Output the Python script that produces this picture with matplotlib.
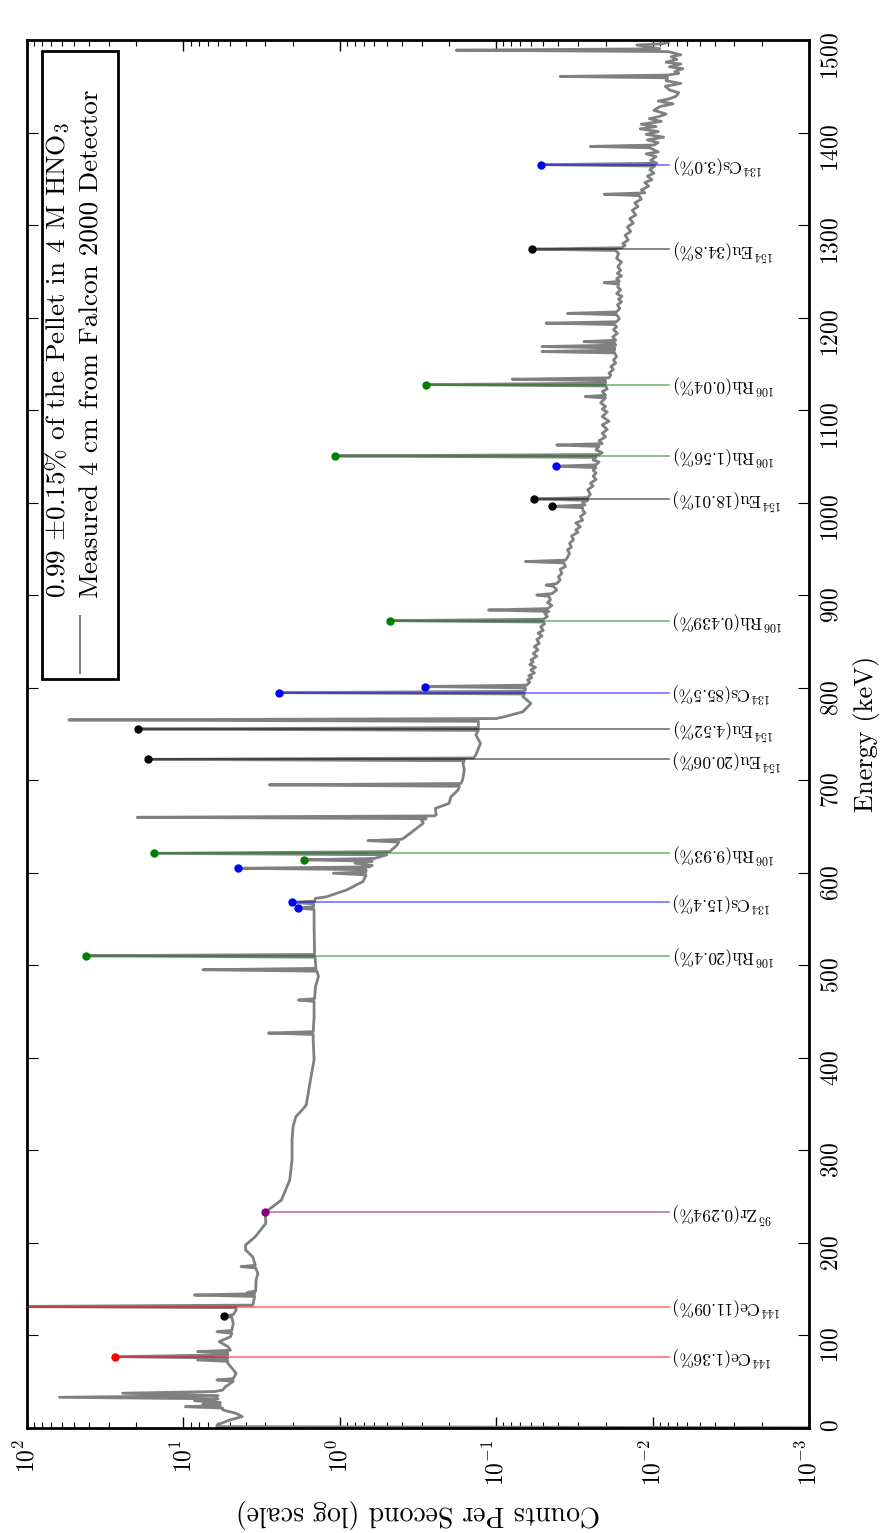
import matplotlib.pyplot as plt
from matplotlib.patches import Rectangle

plt.rcParams['font.family'] = 'cmr10'
plt.rcParams['mathtext.fontset'] = 'cm'
plt.rcParams['axes.unicode_minus'] = False
plt.rcParams['axes.formatter.use_mathtext'] = True

# gamma spectrum, energy (keV) vs counts per second, in three pieces
energy_low = [0.0, 1.5, 3.3, 8.9, 12.3, 15.8, 19.5, 21.5, 23.0, 24.5,
              26.0, 27.5, 29.5, 31.5, 33.2, 35.0, 37.6, 39.4, 41.0, 44.4,
              50.4, 51.9, 53.4, 59.1, 70.0, 72.0, 73.5, 75.5, 77.1, 79.0,
              81.0, 82.5, 84.0, 88.0, 93.3, 98.7, 102.5, 104.0, 105.5, 113.0,
              119.5, 121.0, 122.5, 127.5, 130.0, 131.3, 132.8, 142.2, 143.7, 145.2,
              146.5, 148.0, 160.0, 167.0, 172.9, 174.4, 175.9, 185.0, 192.3, 197.8,
              206.8, 221.2, 233.1]
cps_low = [0.0001, 6.1, 6.1, 5.0, 4.2, 4.6, 5.6, 5.6, 9.7, 5.8,
           7.5, 5.8, 8.5, 6.0, 62.0, 6.0, 24.5, 6.3, 5.6, 5.4,
           4.8, 6.1, 4.8, 4.6, 5.2, 5.2, 8.1, 5.2, 27.2, 5.2,
           5.2, 8.1, 5.0, 5.2, 5.9, 5.0, 4.9, 6.1, 4.9, 4.8,
           4.9, 5.5, 4.8, 4.6, 4.6, 150.0, 3.6, 3.5, 8.5, 3.5,
           3.9, 3.45, 3.43, 3.34, 3.45, 4.28, 3.47, 3.6, 4.0, 4.0,
           3.47, 2.97, 3.0]

energy_mid = [246.4, 268.0, 289.6, 311.0, 325.6, 336.5, 343.7, 349.0, 376.0, 398.0,
              419.6, 425.3, 426.8, 428.3, 444.6, 461.0, 462.5, 464.0, 477.0, 488.0,
              493.7, 495.2, 496.7, 502.4, 508.8, 510.3, 511.8, 542.0, 560.4, 561.9,
              563.4, 566.5, 568.0, 569.5, 572.4, 574.0, 581.6, 590.6, 597.8, 599.5,
              601.0, 603.4, 604.9, 606.4, 608.0, 610.4, 612.5, 614.0, 615.5, 619.5,
              621.0, 622.9, 630.0, 633.2, 634.7, 636.2, 642.7, 653.5, 657.0, 658.5,
              660.0, 661.5, 662.4, 669.6, 675.0, 682.0, 689.6, 693.5, 695.0, 696.5,
              700.3, 711.0, 718.3, 721.1, 722.6, 724.1, 727.3, 740.0, 749.0, 753.9,
              755.4, 756.9, 759.7, 763.7, 765.2, 766.7, 768.7, 774.0, 783.0, 790.5,
              793.2, 794.7, 796.2, 798.4, 799.8, 801.3]
cps_mid = [2.36, 2.09, 2.02, 2.02, 1.99, 1.91, 1.74, 1.64, 1.54, 1.46,
           1.48, 1.48, 2.86, 1.48, 1.46, 1.46, 1.84, 1.45, 1.43, 1.37,
           1.4, 7.5, 1.42, 1.43, 1.44, 42.0, 1.45, 1.46, 1.46, 1.84,
           1.47, 1.47, 2.02, 1.45, 1.43, 1.22, 0.9, 0.71, 0.68, 1.1,
           0.68, 0.68, 4.48, 0.65, 0.62, 0.8, 0.62, 1.69, 0.6, 0.5,
           15.4, 0.48, 0.43, 0.42, 0.66, 0.40, 0.355, 0.293, 0.30, 0.28,
           19.7, 0.25, 0.242, 0.245, 0.20, 0.195, 0.175, 0.172, 2.82, 0.168,
           0.164, 0.16, 0.163, 0.16, 16.9, 0.14, 0.135, 0.126, 0.135, 0.13,
           19.5, 0.13, 0.13, 0.13, 54.0, 0.1, 0.0885, 0.0676, 0.060, 0.0676,
           0.066, 2.45, 0.066, 0.065, 0.065, 0.286]

energy_high = [802.8, 806, 808.5, 811, 813, 816, 819.3, 822, 825, 828,
               830.1, 834, 837, 841, 844.5, 848, 852, 856, 859, 862,
               866, 869, 871, 872.5, 874, 877, 880.4, 882.5, 884, 885.5,
               889, 892, 894.8, 898.7, 900.2, 901.7, 905.6, 909.5, 911, 912.5,
               916.5, 920, 923.6, 928, 931, 934.9, 936.4, 937.9, 941, 945.3,
               949, 952, 956, 960, 964, 968, 970.5, 974, 978, 981,
               985, 989, 992, 994.5, 996, 997.5, 1000, 1002.5, 1004, 1005.5,
               1009, 1014, 1018, 1021, 1025, 1028.6, 1032, 1035, 1037.9, 1039.4,
               1040.9, 1044, 1046, 1049, 1050.5, 1052, 1054, 1057, 1060.8, 1062.3,
               1063.8, 1067, 1071, 1075, 1079, 1084, 1088, 1093, 1098, 1101,
               1104, 1108, 1113.1, 1114.6, 1116.1, 1120, 1123, 1126.1, 1127.6, 1129.1,
               1131.9, 1133.4, 1134.9, 1138, 1140, 1144, 1147, 1151, 1154, 1158,
               1161.8, 1163.3, 1164.8, 1167.2, 1168.7, 1170.2, 1172.5, 1174, 1175.5, 1179,
               1183, 1187, 1190, 1192.5, 1194, 1195.5, 1199, 1203.1, 1204.6, 1206.1,
               1210, 1213.7, 1217, 1220, 1223, 1226, 1230, 1233, 1236.2, 1237.7,
               1239.2, 1242, 1245, 1248, 1251, 1255, 1260, 1264, 1269, 1272.5,
               1274, 1275.5, 1278, 1280, 1284, 1289, 1293, 1298, 1302, 1307,
               1311, 1316, 1320, 1324, 1328, 1331.8, 1333.3, 1334.8, 1338, 1342,
               1346, 1349, 1353, 1356, 1359.6, 1363.8, 1365.3, 1366.8, 1370, 1374,
               1377, 1379, 1383.5, 1385, 1386.5, 1389, 1392, 1395, 1398, 1401,
               1404, 1406.4, 1409, 1412, 1415, 1417, 1420, 1424, 1428, 1431,
               1434, 1436, 1439, 1443, 1446, 1450, 1453, 1456, 1459.1, 1460.6,
               1462.1, 1464, 1466, 1469, 1471, 1474, 1476, 1479, 1482, 1484,
               1487.5, 1489, 1490.5, 1494.6, 1496, 1498, 1500]
cps_high = [0.064, 0.061, 0.063, 0.059, 0.062, 0.057, 0.060, 0.056, 0.061, 0.058,
            0.060, 0.055, 0.058, 0.054, 0.057, 0.053, 0.055, 0.051, 0.054, 0.050,
            0.052, 0.049, 0.05, 0.478, 0.05, 0.047, 0.049, 0.046, 0.112, 0.047,
            0.044, 0.047, 0.045, 0.046, 0.055, 0.044, 0.041, 0.043, 0.048, 0.041,
            0.039, 0.040, 0.038, 0.039, 0.036, 0.037, 0.065, 0.036, 0.035, 0.034,
            0.035, 0.033, 0.034, 0.032, 0.033, 0.030, 0.031, 0.029, 0.031, 0.028,
            0.029, 0.027, 0.028, 0.028, 0.0442, 0.027, 0.028, 0.026, 0.0575, 0.026,
            0.025, 0.026, 0.024, 0.025, 0.023, 0.024, 0.023, 0.024, 0.023, 0.0417,
            0.023, 0.022, 0.024, 0.023, 1.08, 0.022, 0.021, 0.023, 0.022, 0.041,
            0.021, 0.022, 0.020, 0.021, 0.0195, 0.021, 0.019, 0.021, 0.0195, 0.021,
            0.020, 0.0215, 0.020, 0.027, 0.020, 0.021, 0.0195, 0.02, 0.282, 0.02,
            0.02, 0.079, 0.019, 0.0185, 0.019, 0.0178, 0.0185, 0.0172, 0.0178, 0.0170,
            0.0175, 0.051, 0.0175, 0.0175, 0.051, 0.0172, 0.0175, 0.0275, 0.0172, 0.0180,
            0.0168, 0.0178, 0.0170, 0.0175, 0.048, 0.017, 0.0163, 0.017, 0.035, 0.017,
            0.0162, 0.0168, 0.0158, 0.0165, 0.0157, 0.017, 0.0160, 0.0167, 0.0165, 0.0204,
            0.0163, 0.0170, 0.0158, 0.0168, 0.0160, 0.0167, 0.0158, 0.0170, 0.0165, 0.0172,
            0.0593, 0.0158, 0.0150, 0.0155, 0.0143, 0.0150, 0.0138, 0.0145, 0.0133, 0.0140,
            0.0128, 0.0135, 0.0124, 0.0130, 0.0118, 0.0122, 0.0204, 0.0112, 0.0118, 0.0106,
            0.0112, 0.0101, 0.0108, 0.0098, 0.0104, 0.0097, 0.052, 0.0094, 0.0103, 0.0095,
            0.0110, 0.0092, 0.0104, 0.025, 0.0098, 0.0092, 0.0108, 0.0085, 0.011, 0.0092,
            0.012, 0.0095, 0.0118, 0.0088, 0.0105, 0.0092, 0.0082, 0.0098, 0.0090, 0.0074,
            0.0092, 0.0080, 0.0071, 0.0068, 0.0078, 0.0083, 0.0066, 0.0082, 0.008, 0.039,
            0.008, 0.0068, 0.0072, 0.0064, 0.0078, 0.0066, 0.0082, 0.007, 0.0076, 0.0066,
            0.008, 0.18, 0.009, 0.0126, 0.0085, 0.0079, 0.0083]

# identified lines: energy, peak count rate, label, colour
line_energy = [77.1, 131.3, 233.1, 510.3, 568.0, 621.0, 722.6, 755.4, 794.7,
               872.5, 1004.0, 1050.5, 1127.6, 1274.0, 1365.3]
line_cps = [27.2, 150.0, 3.0, 42.0, 2.02, 15.4, 16.9, 19.5, 2.45,
            0.478, 0.0575, 1.08, 0.282, 0.0593, 0.052]
line_names = [r'$^{144}$Ce(1.36%)', r'$^{144}$Ce(11.09%)', r'$^{95}$Zr(0.294%)',
              r'$^{106}$Rh(20.4%)', r'$^{134}$Cs(15.4%)', r'$^{106}$Rh(9.93%)',
              r'$^{154}$Eu(20.06%)', r'$^{154}$Eu(4.52%)', r'$^{134}$Cs(85.5%)',
              r'$^{106}$Rh(0.439%)', r'$^{154}$Eu(18.01%)', r'$^{106}$Rh(1.56%)',
              r'$^{106}$Rh(0.04%)', r'$^{154}$Eu(34.8%)', r'$^{134}$Cs(3.0%)']
line_colors = ['red', 'red', 'purple', 'green', 'blue', 'green', 'black', 'black', 'blue',
               'green', 'black', 'green', 'green', 'black', 'blue']

# other marked peaks without a label
dot_energy = [121.0, 561.9, 604.9, 614.0, 801.3, 996.0, 1039.4]
dot_cps = [5.5, 1.84, 4.48, 1.69, 0.286, 0.0442, 0.0417]
dot_colors = ['black', 'blue', 'blue', 'green', 'blue', 'black', 'blue']

label_cps = 0.0079

energy = energy_low + energy_mid + energy_high
cps = cps_low + cps_mid + cps_high

fig = plt.figure(figsize=(8.85, 15.33), dpi=100)
ax = fig.add_axes([27 / 885, 105 / 1533, 782 / 885, 1388 / 1533])

ax.plot(cps, energy, color='gray', lw=2, zorder=2)

for e, v, name, c in zip(line_energy, line_cps, line_names, line_colors):
    ax.plot([v, label_cps], [e, e], color=c, lw=1.1, alpha=0.6, zorder=3)
    ax.plot(v, e, 'o', color=c, ms=5, zorder=4)
    ax.text(label_cps * 0.94, e, name, rotation=180, fontsize=12.5,
            ha='left', va='center')

for e, v, c in zip(dot_energy, dot_cps, dot_colors):
    ax.plot(v, e, 'o', color=c, ms=5, zorder=4)

ax.set_xscale('log')
ax.set_xlim(100, 1e-3)
ax.set_ylim(0, 1500)
ax.set_yticks(range(0, 1501, 100))

ax.tick_params(axis='x', which='both', direction='in', top=True, bottom=True,
               labelrotation=90, labelsize=17, pad=8)
ax.tick_params(axis='x', which='major', length=8, width=1)
ax.tick_params(axis='x', which='minor', length=4, width=0.8)
ax.tick_params(axis='y', direction='in', left=True, right=True, labelleft=False,
               labelright=True, labelrotation=90, labelsize=17, length=8, pad=8)
for s in ax.spines.values():
    s.set_linewidth(2)

ax.set_xlabel('Counts Per Second (log scale)', rotation=180, fontsize=20, labelpad=9)
ax.yaxis.set_label_position('right')
ax.set_ylabel('Energy (keV)', rotation=90, fontsize=19, labelpad=8)

# legend box drawn by hand so its text can stand rotated with the rest
ax.add_patch(Rectangle((0.0192, 0.5396), 0.0972, 0.4525, transform=ax.transAxes,
                       facecolor='white', edgecolor='black', lw=2, zorder=5))
ax.text(0.039, 0.598, r'0.99 $\pm$0.15% of the Pellet in 4 M HNO$_3$',
        transform=ax.transAxes, rotation=90, fontsize=19.6, ha='center', va='bottom', zorder=6)
ax.text(0.083, 0.598, 'Measured 4 cm from Falcon 2000 Detector',
        transform=ax.transAxes, rotation=90, fontsize=19.6, ha='center', va='bottom', zorder=6)
ax.plot([0.0675, 0.0675], [0.544, 0.585], transform=ax.transAxes, color='gray',
        lw=1.5, zorder=6)

fig.savefig('out.png', dpi=100)
